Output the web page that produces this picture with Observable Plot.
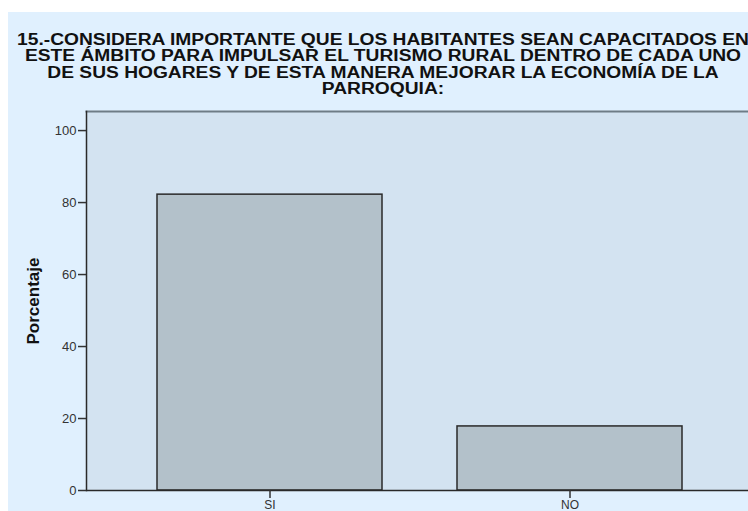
<!DOCTYPE html>
<html>
<head>
<meta charset="utf-8">
<script src="https://cdn.jsdelivr.net/npm/d3@7"></script>
<script src="https://cdn.jsdelivr.net/npm/@observablehq/plot@0.6"></script>
<style>
  html, body { margin: 0; padding: 0; background: #ffffff; }
  #wrap { position: relative; width: 748px; height: 511px; overflow: hidden; }
  #panel { position: absolute; left: 8px; top: 12px; width: 760px; height: 520px; background: #E0F0FE; }
  #title { position: absolute; left: 0; top: 32px; width: 766px; text-align: center;
           font: bold 16px/16.4px "Liberation Sans", Arial, sans-serif;
           transform: scaleX(1.2); transform-origin: 383px 0;
           color: #111; white-space: nowrap; }
  #chart { position: absolute; left: 0; top: 0; }
  #chart svg { overflow: hidden; }
</style>
</head>
<body>
<div id="wrap">
  <div id="panel"></div>
  <div id="title"></div>
  <div id="chart"></div>
</div>
<script>
const titleLines = [
  "15.-CONSIDERA IMPORTANTE QUE LOS HABITANTES SEAN CAPACITADOS EN",
  "ESTE ÁMBITO PARA IMPULSAR EL TURISMO RURAL DENTRO DE CADA UNO",
  "DE SUS HOGARES Y DE ESTA MANERA MEJORAR LA ECONOMÍA DE LA",
  "PARROQUIA:"
];
const categories = ["SI", "NO"];
const percentages = [82.2, 17.8];
const yTicks = [0, 20, 40, 60, 80, 100];
const yLabel = "Porcentaje";

const data = categories.map((c, i) => ({category: c, value: percentages[i]}));

document.getElementById("title").innerHTML = titleLines.map(t => `<div>${t}</div>`).join("");

const chart = Plot.plot({
  width: 748,
  height: 511,
  marginLeft: 86,
  marginTop: 111,
  marginBottom: 21,
  marginRight: 0,
  style: {background: "transparent", fontFamily: "'Liberation Sans', Arial, sans-serif", overflow: "hidden"},
  x: {domain: categories, range: [86, 752], paddingInner: 0.25, paddingOuter: 0.235, label: null},
  y: {domain: [0, 105.3], label: null},
  marks: [
    Plot.frame({fill: "#D3E3F1", stroke: null}),
    Plot.frame({anchor: "top", stroke: "#6E7C86", strokeWidth: 2}),
    Plot.barY(data, {x: "category", y: "value", fill: "#B3C1CA", stroke: "#2a2a2a", strokeWidth: 1.5}),
    Plot.frame({anchor: "left", stroke: "#2a2a2a", strokeWidth: 1.5}),
    Plot.ruleY([0], {stroke: "#2a2a2a", strokeWidth: 1.5}),
    Plot.axisY({ticks: yTicks, tickSize: 8, tickPadding: 2, fontSize: 13, color: "#333", strokeWidth: 1.5, label: null}),
    Plot.axisY({ticks: [], tickSize: 0, label: yLabel, labelArrow: "none", labelAnchor: "center", labelOffset: 60, fontSize: 17, fontWeight: "bold", color: "#111"}),
    Plot.axisX({tickSize: 8, tickPadding: 2, fontSize: 12, color: "#333", strokeWidth: 1.5, label: null})
  ]
});
document.getElementById("chart").appendChild(chart);
</script>
</body>
</html>
